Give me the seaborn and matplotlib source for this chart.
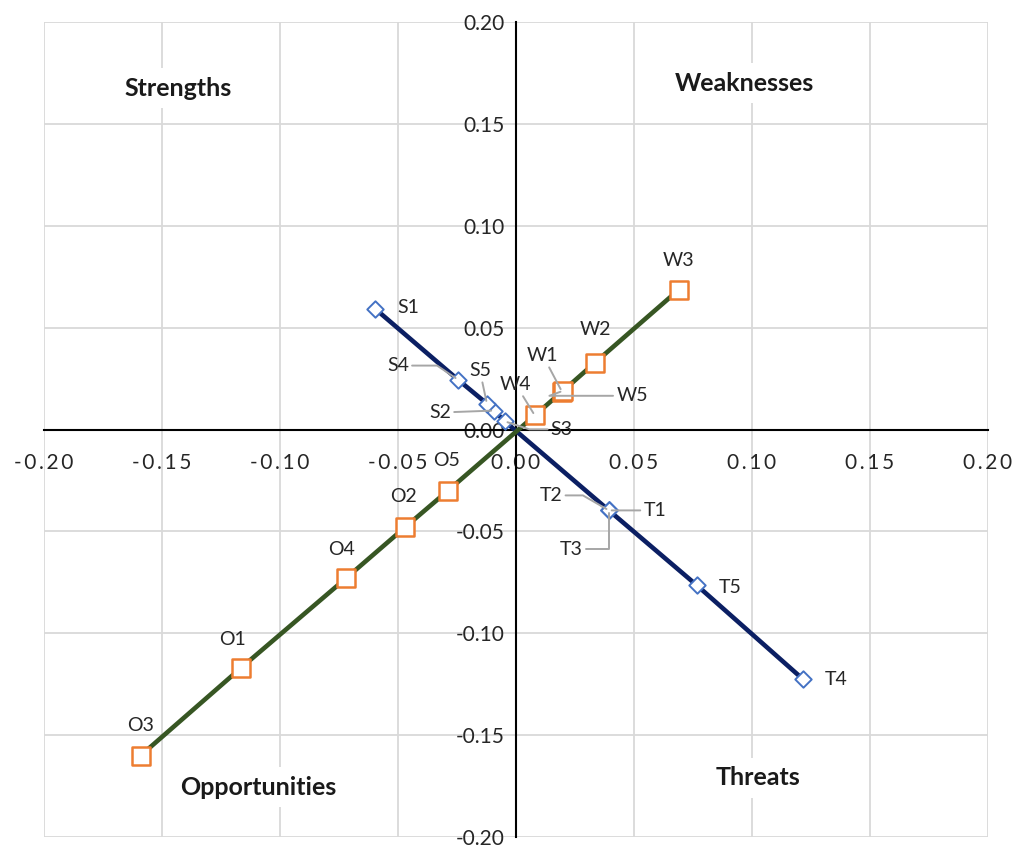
import numpy as np
import pandas as pd
import matplotlib.pyplot as plt
import seaborn as sns

# data
s_labels = ['S1', 'S2', 'S3', 'S4', 'S5']
s_x = [-0.0597, -0.0093, -0.0047, -0.0246, -0.0123]
s_y = [0.0593, 0.0093, 0.0040, 0.0245, 0.0127]

t_labels = ['T1', 'T2', 'T3', 'T4', 'T5']
t_x = [0.0394, 0.0394, 0.0394, 0.1216, 0.0767]
t_y = [-0.0397, -0.0397, -0.0397, -0.1225, -0.0765]

w_labels = ['W1', 'W2', 'W3', 'W4', 'W5']
w_x = [0.0195, 0.0335, 0.0690, 0.0080, 0.0200]
w_y = [0.0186, 0.0328, 0.0686, 0.0069, 0.0190]

o_labels = ['O1', 'O2', 'O3', 'O4', 'O5']
o_x = [-0.1165, -0.0470, -0.1590, -0.0720, -0.0288]
o_y = [-0.1170, -0.0480, -0.1600, -0.0730, -0.0300]

ticks = [-0.20, -0.15, -0.10, -0.05, 0.00, 0.05, 0.10, 0.15, 0.20]

st = pd.DataFrame({'label': s_labels + t_labels, 'x': s_x + t_x, 'y': s_y + t_y})
ow = pd.DataFrame({'label': o_labels + w_labels, 'x': o_x + w_x, 'y': o_y + w_y})

sns.set_style('white')
plt.rcParams['font.family'] = ['Lato', 'DejaVu Sans']

navy = '#0B1F63'
green = '#375623'
orange = '#ED7D31'
blue = '#4472C4'
grey = '#A6A6A6'

fig = plt.figure(figsize=(10.15, 8.49), dpi=100)
ax = fig.add_axes([0.0433, 0.0141, 0.930, 0.960])

sns.lineplot(data=st, x='x', y='y', sort=True, estimator=None, color=navy, lw=3.3, ax=ax, zorder=3)
sns.lineplot(data=ow, x='x', y='y', sort=True, estimator=None, color=green, lw=3.3, ax=ax, zorder=3)
sns.scatterplot(data=st, x='x', y='y', marker='D', s=70, facecolor='white', edgecolor=blue,
                linewidth=1.4, ax=ax, zorder=4)
sns.scatterplot(data=ow, x='x', y='y', marker='s', s=160, facecolor='white', edgecolor=orange,
                linewidth=1.8, ax=ax, zorder=4)

ax.set_xlim(-0.2, 0.2)
ax.set_ylim(-0.2, 0.2)
ax.set_xticks(ticks)
ax.set_yticks(ticks)
ax.set_xticklabels(['\u2009'.join(f'{t:.2f}') for t in ticks])
ax.set_yticklabels([f'{t:.2f}' for t in ticks])
ax.tick_params(length=0, labelsize=15, colors='#262626')
ax.tick_params(axis='x', pad=17)
ax.tick_params(axis='y', pad=8)
ax.set_xlabel('')
ax.set_ylabel('')
ax.grid(True, color='#D9D9D9', lw=1.3, zorder=0)
ax.set_axisbelow(True)
for side in ['top', 'right']:
    ax.spines[side].set_visible(False)
for side in ['left', 'bottom']:
    ax.spines[side].set_position('zero')
    ax.spines[side].set_color('black')
    ax.spines[side].set_linewidth(1.5)

# label offsets in pixels (dx, dy) and leader style
offsets = {
    'S1': (33, 1, None), 'S4': (-60, 14, 'angle,angleA=0,angleB=-34'),
    'S5': (-7, 33, 'arc3'), 'S2': (-54, -2, 'arc3'),
    'S3': (57, -8, 'angle,angleA=0,angleB=-18'),
    'T1': (46, 0, 'arc3'), 'T2': (-58, 15, 'angle,angleA=0,angleB=-30'),
    'T3': (-38, -39, 'angle,angleA=0,angleB=90'),
    'T4': (33, 0, None), 'T5': (33, -2, None),
    'W1': (-19, 36, 'arc3'), 'W2': (0, 33, None), 'W3': (0, 29, None),
    'W4': (-19, 31, 'arc3'), 'W5': (69, -5, 'angle,angleA=0,angleB=20'),
    'O1': (-8, 28, None), 'O2': (-2, 31, None), 'O3': (0, 30, None),
    'O4': (-5, 29, None), 'O5': (-1, 30, None),
}
for df in (st, ow):
    for _, r in df.iterrows():
        dx, dy, conn = offsets[r['label']]
        kw = {}
        if conn is not None:
            kw['arrowprops'] = dict(arrowstyle='-', color=grey, lw=1.4, shrinkA=0, shrinkB=2,
                                    connectionstyle=conn)
        ax.annotate(r['label'], (r['x'], r['y']), xytext=(dx, dy), textcoords='offset pixels',
                    ha='center', va='center', fontsize=14, color='#262626', zorder=5, **kw)

quad = [('Strengths', -0.143, 0.1676), ('Weaknesses', 0.097, 0.170),
        ('Opportunities', -0.109, -0.1755), ('Threats', 0.1025, -0.171)]
for txt, qx, qy in quad:
    ax.text(qx, qy, txt, ha='center', va='center', fontsize=18, fontweight='bold',
            color='#1A1A1A', zorder=2,
            bbox=dict(facecolor='white', edgecolor='none', pad=6))

fig.savefig('out.png', dpi=100)
